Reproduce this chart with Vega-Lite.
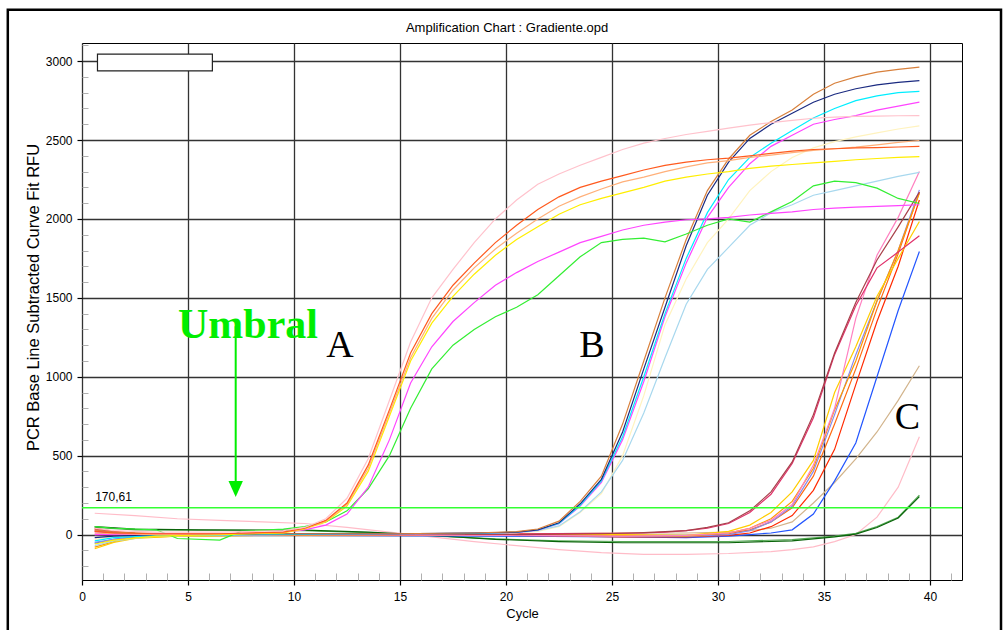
{
"$schema": "https://vega.github.io/schema/vega-lite/v6.json",
"width": 880, "height": 537,
"autosize": {"type": "none"},
"padding": {"left": 82, "top": 43, "right": 43, "bottom": 50},
"background": "white",
"config": {"view": {"stroke": "#000", "strokeWidth": 1}},
"resolve": {"axis": {"x": "independent", "y": "independent"}},
"datasets": {"curves": [
{"s":"pinkBase","c":0.6,"v":135},{"s":"pinkBase","c":2.5,"v":120},{"s":"pinkBase","c":4.5,"v":100},{"s":"pinkBase","c":6.5,"v":90},{"s":"pinkBase","c":8.5,"v":80},{"s":"pinkBase","c":10.5,"v":70},{"s":"pinkBase","c":12.5,"v":45},{"s":"pinkBase","c":14.5,"v":15},{"s":"pinkBase","c":16.5,"v":-15},{"s":"pinkBase","c":18.5,"v":-45},{"s":"pinkBase","c":20.5,"v":-70},{"s":"pinkBase","c":22.5,"v":-95},{"s":"pinkBase","c":24.5,"v":-115},{"s":"pinkBase","c":26.5,"v":-125},{"s":"pinkBase","c":28.5,"v":-125},{"s":"pinkBase","c":30.5,"v":-120},{"s":"pinkBase","c":32.5,"v":-108},{"s":"pinkBase","c":33.5,"v":-95},{"s":"pinkBase","c":34.5,"v":-78},{"s":"pinkBase","c":35.5,"v":-45},{"s":"pinkBase","c":36.5,"v":0},{"s":"pinkBase","c":37.5,"v":110},{"s":"pinkBase","c":38.5,"v":300},{"s":"pinkBase","c":39.5,"v":620},
{"s":"dg2","c":0.6,"v":45},{"s":"dg2","c":2.5,"v":30},{"s":"dg2","c":5.5,"v":28},{"s":"dg2","c":10.5,"v":25},{"s":"dg2","c":13.5,"v":12},{"s":"dg2","c":16.5,"v":-8},{"s":"dg2","c":19.5,"v":-28},{"s":"dg2","c":22.5,"v":-40},{"s":"dg2","c":25.5,"v":-44},{"s":"dg2","c":30.5,"v":-44},{"s":"dg2","c":33.5,"v":-32},{"s":"dg2","c":35.5,"v":-10},{"s":"dg2","c":36.5,"v":8},{"s":"dg2","c":37.5,"v":50},{"s":"dg2","c":38.5,"v":110},{"s":"dg2","c":39.5,"v":250},
{"s":"dg1","c":0.6,"v":50},{"s":"dg1","c":2.5,"v":35},{"s":"dg1","c":5.5,"v":30},{"s":"dg1","c":10.5,"v":28},{"s":"dg1","c":13.5,"v":15},{"s":"dg1","c":16.5,"v":-5},{"s":"dg1","c":19.5,"v":-30},{"s":"dg1","c":22.5,"v":-45},{"s":"dg1","c":25.5,"v":-52},{"s":"dg1","c":30.5,"v":-52},{"s":"dg1","c":33.5,"v":-40},{"s":"dg1","c":35.5,"v":-15},{"s":"dg1","c":36.5,"v":3},{"s":"dg1","c":37.5,"v":45},{"s":"dg1","c":38.5,"v":105},{"s":"dg1","c":39.5,"v":240},
{"s":"tanC","c":0.6,"v":0},{"s":"tanC","c":2.5,"v":5},{"s":"tanC","c":10.5,"v":5},{"s":"tanC","c":20.5,"v":5},{"s":"tanC","c":25.5,"v":10},{"s":"tanC","c":28.5,"v":10},{"s":"tanC","c":30.5,"v":15},{"s":"tanC","c":31.5,"v":25},{"s":"tanC","c":32.5,"v":40},{"s":"tanC","c":33.5,"v":80},{"s":"tanC","c":34.5,"v":200},{"s":"tanC","c":35.5,"v":330},{"s":"tanC","c":36.5,"v":480},{"s":"tanC","c":37.5,"v":650},{"s":"tanC","c":38.5,"v":850},{"s":"tanC","c":39.5,"v":1070},
{"s":"blueC","c":0.6,"v":-55},{"s":"blueC","c":1.5,"v":-30},{"s":"blueC","c":2.5,"v":-15},{"s":"blueC","c":4.5,"v":-5},{"s":"blueC","c":10.5,"v":-5},{"s":"blueC","c":20.5,"v":-10},{"s":"blueC","c":25.5,"v":-15},{"s":"blueC","c":28.5,"v":-20},{"s":"blueC","c":30.5,"v":-10},{"s":"blueC","c":31.5,"v":0},{"s":"blueC","c":32.5,"v":10},{"s":"blueC","c":33.5,"v":30},{"s":"blueC","c":34.5,"v":130},{"s":"blueC","c":35.5,"v":340},{"s":"blueC","c":36.5,"v":580},{"s":"blueC","c":37.5,"v":1000},{"s":"blueC","c":38.5,"v":1420},{"s":"blueC","c":39.5,"v":1794},
{"s":"redC","c":0.6,"v":40},{"s":"redC","c":1.5,"v":20},{"s":"redC","c":2.5,"v":10},{"s":"redC","c":4.5,"v":5},{"s":"redC","c":10.5,"v":0},{"s":"redC","c":20.5,"v":-5},{"s":"redC","c":25.5,"v":-15},{"s":"redC","c":28.5,"v":-15},{"s":"redC","c":30.5,"v":-5},{"s":"redC","c":31.5,"v":10},{"s":"redC","c":32.5,"v":50},{"s":"redC","c":33.5,"v":120},{"s":"redC","c":34.5,"v":280},{"s":"redC","c":35.5,"v":540},{"s":"redC","c":36.5,"v":950},{"s":"redC","c":37.5,"v":1350},{"s":"redC","c":38.5,"v":1700},{"s":"redC","c":39.5,"v":2120},
{"s":"orangeredC","c":0.6,"v":30},{"s":"orangeredC","c":1.5,"v":15},{"s":"orangeredC","c":2.5,"v":5},{"s":"orangeredC","c":4.5,"v":0},{"s":"orangeredC","c":10.5,"v":0},{"s":"orangeredC","c":20.5,"v":0},{"s":"orangeredC","c":25.5,"v":-10},{"s":"orangeredC","c":28.5,"v":-12},{"s":"orangeredC","c":30.5,"v":5},{"s":"orangeredC","c":31.5,"v":30},{"s":"orangeredC","c":32.5,"v":80},{"s":"orangeredC","c":33.5,"v":170},{"s":"orangeredC","c":34.5,"v":370},{"s":"orangeredC","c":35.5,"v":700},{"s":"orangeredC","c":36.5,"v":1050},{"s":"orangeredC","c":37.5,"v":1430},{"s":"orangeredC","c":38.5,"v":1780},{"s":"orangeredC","c":39.5,"v":2170},
{"s":"lavenderC","c":0.6,"v":-50},{"s":"lavenderC","c":1.5,"v":-30},{"s":"lavenderC","c":2.5,"v":-15},{"s":"lavenderC","c":4.5,"v":-5},{"s":"lavenderC","c":10.5,"v":-5},{"s":"lavenderC","c":20.5,"v":-5},{"s":"lavenderC","c":25.5,"v":-10},{"s":"lavenderC","c":28.5,"v":-12},{"s":"lavenderC","c":30.5,"v":0},{"s":"lavenderC","c":31.5,"v":25},{"s":"lavenderC","c":32.5,"v":80},{"s":"lavenderC","c":33.5,"v":180},{"s":"lavenderC","c":34.5,"v":400},{"s":"lavenderC","c":35.5,"v":760},{"s":"lavenderC","c":36.5,"v":1140},{"s":"lavenderC","c":37.5,"v":1480},{"s":"lavenderC","c":38.5,"v":1800},{"s":"lavenderC","c":39.5,"v":2184},
{"s":"orangeC","c":0.6,"v":-80},{"s":"orangeC","c":1.5,"v":-45},{"s":"orangeC","c":2.5,"v":-20},{"s":"orangeC","c":4.5,"v":-10},{"s":"orangeC","c":8.5,"v":-5},{"s":"orangeC","c":15.5,"v":-5},{"s":"orangeC","c":20.5,"v":0},{"s":"orangeC","c":25.5,"v":-5},{"s":"orangeC","c":28.5,"v":-10},{"s":"orangeC","c":30.5,"v":10},{"s":"orangeC","c":31.5,"v":40},{"s":"orangeC","c":32.5,"v":100},{"s":"orangeC","c":33.5,"v":210},{"s":"orangeC","c":34.5,"v":420},{"s":"orangeC","c":35.5,"v":790},{"s":"orangeC","c":36.5,"v":1100},{"s":"orangeC","c":37.5,"v":1480},{"s":"orangeC","c":38.5,"v":1800},{"s":"orangeC","c":39.5,"v":2163},
{"s":"goldC","c":0.6,"v":-90},{"s":"goldC","c":1.5,"v":-50},{"s":"goldC","c":2.5,"v":-25},{"s":"goldC","c":4.5,"v":-10},{"s":"goldC","c":8.5,"v":-5},{"s":"goldC","c":15.5,"v":0},{"s":"goldC","c":20.5,"v":5},{"s":"goldC","c":25.5,"v":0},{"s":"goldC","c":28.5,"v":-5},{"s":"goldC","c":30.5,"v":20},{"s":"goldC","c":31.5,"v":60},{"s":"goldC","c":32.5,"v":140},{"s":"goldC","c":33.5,"v":270},{"s":"goldC","c":34.5,"v":470},{"s":"goldC","c":35.5,"v":900},{"s":"goldC","c":36.5,"v":1190},{"s":"goldC","c":37.5,"v":1510},{"s":"goldC","c":38.5,"v":1750},{"s":"goldC","c":39.5,"v":1984},
{"s":"hotpinkC","c":0.6,"v":25},{"s":"hotpinkC","c":1.5,"v":10},{"s":"hotpinkC","c":3.5,"v":0},{"s":"hotpinkC","c":10.5,"v":0},{"s":"hotpinkC","c":20.5,"v":-5},{"s":"hotpinkC","c":25.5,"v":-10},{"s":"hotpinkC","c":28.5,"v":-5},{"s":"hotpinkC","c":30.5,"v":10},{"s":"hotpinkC","c":31.5,"v":40},{"s":"hotpinkC","c":32.5,"v":90},{"s":"hotpinkC","c":33.5,"v":190},{"s":"hotpinkC","c":34.5,"v":440},{"s":"hotpinkC","c":35.5,"v":800},{"s":"hotpinkC","c":36.5,"v":1370},{"s":"hotpinkC","c":37.5,"v":1770},{"s":"hotpinkC","c":38.5,"v":2010},{"s":"hotpinkC","c":39.5,"v":2300},
{"s":"crimsonC","c":0.6,"v":35},{"s":"crimsonC","c":1.5,"v":15},{"s":"crimsonC","c":2.5,"v":5},{"s":"crimsonC","c":5.5,"v":-5},{"s":"crimsonC","c":10.5,"v":0},{"s":"crimsonC","c":15.5,"v":0},{"s":"crimsonC","c":20.5,"v":5},{"s":"crimsonC","c":24.5,"v":8},{"s":"crimsonC","c":26.5,"v":10},{"s":"crimsonC","c":27.5,"v":15},{"s":"crimsonC","c":28.5,"v":25},{"s":"crimsonC","c":29.5,"v":40},{"s":"crimsonC","c":30.5,"v":70},{"s":"crimsonC","c":31.5,"v":140},{"s":"crimsonC","c":32.5,"v":255},{"s":"crimsonC","c":33.5,"v":450},{"s":"crimsonC","c":34.5,"v":740},{"s":"crimsonC","c":35.5,"v":1140},{"s":"crimsonC","c":36.5,"v":1450},{"s":"crimsonC","c":37.5,"v":1690},{"s":"crimsonC","c":38.5,"v":1790},{"s":"crimsonC","c":39.5,"v":1893},
{"s":"maroonC","c":0.6,"v":20},{"s":"maroonC","c":1.5,"v":10},{"s":"maroonC","c":2.5,"v":5},{"s":"maroonC","c":5.5,"v":0},{"s":"maroonC","c":10.5,"v":5},{"s":"maroonC","c":15.5,"v":5},{"s":"maroonC","c":20.5,"v":0},{"s":"maroonC","c":24.5,"v":5},{"s":"maroonC","c":26.5,"v":12},{"s":"maroonC","c":27.5,"v":18},{"s":"maroonC","c":28.5,"v":25},{"s":"maroonC","c":29.5,"v":45},{"s":"maroonC","c":30.5,"v":75},{"s":"maroonC","c":31.5,"v":150},{"s":"maroonC","c":32.5,"v":270},{"s":"maroonC","c":33.5,"v":460},{"s":"maroonC","c":34.5,"v":760},{"s":"maroonC","c":35.5,"v":1150},{"s":"maroonC","c":36.5,"v":1470},{"s":"maroonC","c":37.5,"v":1740},{"s":"maroonC","c":38.5,"v":1950},{"s":"maroonC","c":39.5,"v":2170},
{"s":"creamB","c":0.6,"v":-30},{"s":"creamB","c":1.5,"v":-15},{"s":"creamB","c":3.5,"v":0},{"s":"creamB","c":8.5,"v":0},{"s":"creamB","c":14.5,"v":5},{"s":"creamB","c":18.5,"v":8},{"s":"creamB","c":20.5,"v":12},{"s":"creamB","c":21.5,"v":20},{"s":"creamB","c":22.5,"v":50},{"s":"creamB","c":23.5,"v":140},{"s":"creamB","c":24.5,"v":260},{"s":"creamB","c":25.5,"v":500},{"s":"creamB","c":26.5,"v":880},{"s":"creamB","c":27.5,"v":1330},{"s":"creamB","c":28.5,"v":1620},{"s":"creamB","c":29.5,"v":1850},{"s":"creamB","c":30.5,"v":2000},{"s":"creamB","c":31.5,"v":2180},{"s":"creamB","c":32.5,"v":2300},{"s":"creamB","c":33.5,"v":2390},{"s":"creamB","c":34.5,"v":2450},{"s":"creamB","c":35.5,"v":2490},{"s":"creamB","c":36.5,"v":2520},{"s":"creamB","c":37.5,"v":2545},{"s":"creamB","c":38.5,"v":2570},{"s":"creamB","c":39.5,"v":2590},
{"s":"lightblueB","c":0.6,"v":-70},{"s":"lightblueB","c":1.5,"v":-40},{"s":"lightblueB","c":3.5,"v":-10},{"s":"lightblueB","c":8.5,"v":0},{"s":"lightblueB","c":14.5,"v":5},{"s":"lightblueB","c":18.5,"v":8},{"s":"lightblueB","c":20.5,"v":12},{"s":"lightblueB","c":21.5,"v":25},{"s":"lightblueB","c":22.5,"v":55},{"s":"lightblueB","c":23.5,"v":145},{"s":"lightblueB","c":24.5,"v":270},{"s":"lightblueB","c":25.5,"v":470},{"s":"lightblueB","c":26.5,"v":770},{"s":"lightblueB","c":27.5,"v":1120},{"s":"lightblueB","c":28.5,"v":1460},{"s":"lightblueB","c":29.5,"v":1680},{"s":"lightblueB","c":30.5,"v":1820},{"s":"lightblueB","c":31.5,"v":1960},{"s":"lightblueB","c":32.5,"v":2040},{"s":"lightblueB","c":33.5,"v":2090},{"s":"lightblueB","c":34.5,"v":2150},{"s":"lightblueB","c":35.5,"v":2180},{"s":"lightblueB","c":36.5,"v":2210},{"s":"lightblueB","c":37.5,"v":2240},{"s":"lightblueB","c":38.5,"v":2270},{"s":"lightblueB","c":39.5,"v":2295},
{"s":"magentaB","c":0.6,"v":10},{"s":"magentaB","c":1.5,"v":5},{"s":"magentaB","c":3.5,"v":0},{"s":"magentaB","c":8.5,"v":0},{"s":"magentaB","c":14.5,"v":5},{"s":"magentaB","c":18.5,"v":8},{"s":"magentaB","c":20.5,"v":14},{"s":"magentaB","c":21.5,"v":28},{"s":"magentaB","c":22.5,"v":68},{"s":"magentaB","c":23.5,"v":180},{"s":"magentaB","c":24.5,"v":330},{"s":"magentaB","c":25.5,"v":600},{"s":"magentaB","c":26.5,"v":970},{"s":"magentaB","c":27.5,"v":1380},{"s":"magentaB","c":28.5,"v":1720},{"s":"magentaB","c":29.5,"v":2010},{"s":"magentaB","c":30.5,"v":2200},{"s":"magentaB","c":31.5,"v":2350},{"s":"magentaB","c":32.5,"v":2460},{"s":"magentaB","c":33.5,"v":2530},{"s":"magentaB","c":34.5,"v":2600},{"s":"magentaB","c":35.5,"v":2630},{"s":"magentaB","c":36.5,"v":2655},{"s":"magentaB","c":37.5,"v":2690},{"s":"magentaB","c":38.5,"v":2715},{"s":"magentaB","c":39.5,"v":2740},
{"s":"cyanB","c":0.6,"v":-40},{"s":"cyanB","c":1.5,"v":-20},{"s":"cyanB","c":3.5,"v":-5},{"s":"cyanB","c":8.5,"v":0},{"s":"cyanB","c":14.5,"v":5},{"s":"cyanB","c":18.5,"v":8},{"s":"cyanB","c":20.5,"v":15},{"s":"cyanB","c":21.5,"v":30},{"s":"cyanB","c":22.5,"v":70},{"s":"cyanB","c":23.5,"v":185},{"s":"cyanB","c":24.5,"v":340},{"s":"cyanB","c":25.5,"v":620},{"s":"cyanB","c":26.5,"v":1000},{"s":"cyanB","c":27.5,"v":1400},{"s":"cyanB","c":28.5,"v":1750},{"s":"cyanB","c":29.5,"v":2040},{"s":"cyanB","c":30.5,"v":2250},{"s":"cyanB","c":31.5,"v":2390},{"s":"cyanB","c":32.5,"v":2480},{"s":"cyanB","c":33.5,"v":2560},{"s":"cyanB","c":34.5,"v":2640},{"s":"cyanB","c":35.5,"v":2700},{"s":"cyanB","c":36.5,"v":2750},{"s":"cyanB","c":37.5,"v":2780},{"s":"cyanB","c":38.5,"v":2800},{"s":"cyanB","c":39.5,"v":2808},
{"s":"navyB","c":0.6,"v":-20},{"s":"navyB","c":1.5,"v":-10},{"s":"navyB","c":3.5,"v":0},{"s":"navyB","c":8.5,"v":5},{"s":"navyB","c":14.5,"v":5},{"s":"navyB","c":18.5,"v":10},{"s":"navyB","c":20.5,"v":15},{"s":"navyB","c":21.5,"v":30},{"s":"navyB","c":22.5,"v":75},{"s":"navyB","c":23.5,"v":195},{"s":"navyB","c":24.5,"v":350},{"s":"navyB","c":25.5,"v":650},{"s":"navyB","c":26.5,"v":1050},{"s":"navyB","c":27.5,"v":1440},{"s":"navyB","c":28.5,"v":1830},{"s":"navyB","c":29.5,"v":2150},{"s":"navyB","c":30.5,"v":2360},{"s":"navyB","c":31.5,"v":2510},{"s":"navyB","c":32.5,"v":2600},{"s":"navyB","c":33.5,"v":2670},{"s":"navyB","c":34.5,"v":2740},{"s":"navyB","c":35.5,"v":2790},{"s":"navyB","c":36.5,"v":2825},{"s":"navyB","c":37.5,"v":2850},{"s":"navyB","c":38.5,"v":2865},{"s":"navyB","c":39.5,"v":2877},
{"s":"brownB","c":0.6,"v":30},{"s":"brownB","c":1.5,"v":15},{"s":"brownB","c":3.5,"v":5},{"s":"brownB","c":8.5,"v":5},{"s":"brownB","c":14.5,"v":5},{"s":"brownB","c":18.5,"v":10},{"s":"brownB","c":20.5,"v":18},{"s":"brownB","c":21.5,"v":35},{"s":"brownB","c":22.5,"v":85},{"s":"brownB","c":23.5,"v":210},{"s":"brownB","c":24.5,"v":370},{"s":"brownB","c":25.5,"v":700},{"s":"brownB","c":26.5,"v":1100},{"s":"brownB","c":27.5,"v":1500},{"s":"brownB","c":28.5,"v":1870},{"s":"brownB","c":29.5,"v":2180},{"s":"brownB","c":30.5,"v":2380},{"s":"brownB","c":31.5,"v":2530},{"s":"brownB","c":32.5,"v":2617},{"s":"brownB","c":33.5,"v":2690},{"s":"brownB","c":34.5,"v":2790},{"s":"brownB","c":35.5,"v":2860},{"s":"brownB","c":36.5,"v":2900},{"s":"brownB","c":37.5,"v":2930},{"s":"brownB","c":38.5,"v":2948},{"s":"brownB","c":39.5,"v":2962},
{"s":"greenA","c":0.6,"v":50},{"s":"greenA","c":1.5,"v":40},{"s":"greenA","c":3.5,"v":30},{"s":"greenA","c":4.5,"v":-25},{"s":"greenA","c":6.5,"v":-35},{"s":"greenA","c":7.5,"v":20},{"s":"greenA","c":9.5,"v":35},{"s":"greenA","c":10.5,"v":50},{"s":"greenA","c":11.5,"v":80},{"s":"greenA","c":12.5,"v":150},{"s":"greenA","c":13.5,"v":290},{"s":"greenA","c":14.5,"v":500},{"s":"greenA","c":15.5,"v":800},{"s":"greenA","c":16.5,"v":1050},{"s":"greenA","c":17.5,"v":1200},{"s":"greenA","c":18.5,"v":1300},{"s":"greenA","c":19.5,"v":1380},{"s":"greenA","c":20.5,"v":1440},{"s":"greenA","c":21.5,"v":1520},{"s":"greenA","c":22.5,"v":1640},{"s":"greenA","c":23.5,"v":1760},{"s":"greenA","c":24.5,"v":1850},{"s":"greenA","c":25.5,"v":1870},{"s":"greenA","c":26.5,"v":1878},{"s":"greenA","c":27.5,"v":1855},{"s":"greenA","c":28.5,"v":1905},{"s":"greenA","c":29.5,"v":1960},{"s":"greenA","c":30.5,"v":2000},{"s":"greenA","c":31.5,"v":1980},{"s":"greenA","c":32.5,"v":2045},{"s":"greenA","c":33.5,"v":2110},{"s":"greenA","c":34.5,"v":2210},{"s":"greenA","c":35.5,"v":2240},{"s":"greenA","c":36.5,"v":2230},{"s":"greenA","c":37.5,"v":2195},{"s":"greenA","c":38.5,"v":2130},{"s":"greenA","c":39.5,"v":2098},
{"s":"magentaA","c":0.6,"v":0},{"s":"magentaA","c":1.5,"v":0},{"s":"magentaA","c":3.5,"v":5},{"s":"magentaA","c":6.5,"v":5},{"s":"magentaA","c":9.5,"v":15},{"s":"magentaA","c":10.5,"v":30},{"s":"magentaA","c":11.5,"v":60},{"s":"magentaA","c":12.5,"v":130},{"s":"magentaA","c":13.5,"v":300},{"s":"magentaA","c":14.5,"v":600},{"s":"magentaA","c":15.5,"v":960},{"s":"magentaA","c":16.5,"v":1190},{"s":"magentaA","c":17.5,"v":1350},{"s":"magentaA","c":18.5,"v":1470},{"s":"magentaA","c":19.5,"v":1580},{"s":"magentaA","c":20.5,"v":1660},{"s":"magentaA","c":21.5,"v":1730},{"s":"magentaA","c":22.5,"v":1790},{"s":"magentaA","c":23.5,"v":1850},{"s":"magentaA","c":24.5,"v":1890},{"s":"magentaA","c":25.5,"v":1930},{"s":"magentaA","c":26.5,"v":1960},{"s":"magentaA","c":27.5,"v":1980},{"s":"magentaA","c":28.5,"v":1995},{"s":"magentaA","c":29.5,"v":2000},{"s":"magentaA","c":30.5,"v":2010},{"s":"magentaA","c":31.5,"v":2025},{"s":"magentaA","c":32.5,"v":2035},{"s":"magentaA","c":33.5,"v":2045},{"s":"magentaA","c":34.5,"v":2060},{"s":"magentaA","c":35.5,"v":2068},{"s":"magentaA","c":36.5,"v":2075},{"s":"magentaA","c":37.5,"v":2080},{"s":"magentaA","c":38.5,"v":2085},{"s":"magentaA","c":39.5,"v":2090},
{"s":"yellowA","c":0.6,"v":-60},{"s":"yellowA","c":1.5,"v":-35},{"s":"yellowA","c":3.5,"v":-10},{"s":"yellowA","c":6.5,"v":0},{"s":"yellowA","c":9.5,"v":10},{"s":"yellowA","c":10.5,"v":35},{"s":"yellowA","c":11.5,"v":80},{"s":"yellowA","c":12.5,"v":180},{"s":"yellowA","c":13.5,"v":400},{"s":"yellowA","c":14.5,"v":750},{"s":"yellowA","c":15.5,"v":1100},{"s":"yellowA","c":16.5,"v":1340},{"s":"yellowA","c":17.5,"v":1510},{"s":"yellowA","c":18.5,"v":1650},{"s":"yellowA","c":19.5,"v":1770},{"s":"yellowA","c":20.5,"v":1870},{"s":"yellowA","c":21.5,"v":1950},{"s":"yellowA","c":22.5,"v":2030},{"s":"yellowA","c":23.5,"v":2090},{"s":"yellowA","c":24.5,"v":2130},{"s":"yellowA","c":25.5,"v":2165},{"s":"yellowA","c":26.5,"v":2200},{"s":"yellowA","c":27.5,"v":2240},{"s":"yellowA","c":28.5,"v":2265},{"s":"yellowA","c":29.5,"v":2285},{"s":"yellowA","c":30.5,"v":2300},{"s":"yellowA","c":31.5,"v":2320},{"s":"yellowA","c":32.5,"v":2335},{"s":"yellowA","c":33.5,"v":2345},{"s":"yellowA","c":34.5,"v":2355},{"s":"yellowA","c":35.5,"v":2365},{"s":"yellowA","c":36.5,"v":2375},{"s":"yellowA","c":37.5,"v":2383},{"s":"yellowA","c":38.5,"v":2390},{"s":"yellowA","c":39.5,"v":2395},
{"s":"peachA","c":0.6,"v":10},{"s":"peachA","c":1.5,"v":5},{"s":"peachA","c":3.5,"v":0},{"s":"peachA","c":6.5,"v":5},{"s":"peachA","c":9.5,"v":15},{"s":"peachA","c":10.5,"v":40},{"s":"peachA","c":11.5,"v":85},{"s":"peachA","c":12.5,"v":190},{"s":"peachA","c":13.5,"v":420},{"s":"peachA","c":14.5,"v":770},{"s":"peachA","c":15.5,"v":1120},{"s":"peachA","c":16.5,"v":1370},{"s":"peachA","c":17.5,"v":1550},{"s":"peachA","c":18.5,"v":1690},{"s":"peachA","c":19.5,"v":1810},{"s":"peachA","c":20.5,"v":1910},{"s":"peachA","c":21.5,"v":2000},{"s":"peachA","c":22.5,"v":2080},{"s":"peachA","c":23.5,"v":2140},{"s":"peachA","c":24.5,"v":2190},{"s":"peachA","c":25.5,"v":2235},{"s":"peachA","c":26.5,"v":2265},{"s":"peachA","c":27.5,"v":2300},{"s":"peachA","c":28.5,"v":2330},{"s":"peachA","c":29.5,"v":2355},{"s":"peachA","c":30.5,"v":2370},{"s":"peachA","c":31.5,"v":2390},{"s":"peachA","c":32.5,"v":2405},{"s":"peachA","c":33.5,"v":2420},{"s":"peachA","c":34.5,"v":2435},{"s":"peachA","c":35.5,"v":2445},{"s":"peachA","c":36.5,"v":2455},{"s":"peachA","c":37.5,"v":2470},{"s":"peachA","c":38.5,"v":2485},{"s":"peachA","c":39.5,"v":2497},
{"s":"orangeA","c":0.6,"v":20},{"s":"orangeA","c":1.5,"v":10},{"s":"orangeA","c":3.5,"v":5},{"s":"orangeA","c":6.5,"v":5},{"s":"orangeA","c":9.5,"v":15},{"s":"orangeA","c":10.5,"v":40},{"s":"orangeA","c":11.5,"v":90},{"s":"orangeA","c":12.5,"v":200},{"s":"orangeA","c":13.5,"v":440},{"s":"orangeA","c":14.5,"v":790},{"s":"orangeA","c":15.5,"v":1150},{"s":"orangeA","c":16.5,"v":1400},{"s":"orangeA","c":17.5,"v":1580},{"s":"orangeA","c":18.5,"v":1720},{"s":"orangeA","c":19.5,"v":1850},{"s":"orangeA","c":20.5,"v":1960},{"s":"orangeA","c":21.5,"v":2060},{"s":"orangeA","c":22.5,"v":2140},{"s":"orangeA","c":23.5,"v":2200},{"s":"orangeA","c":24.5,"v":2240},{"s":"orangeA","c":25.5,"v":2275},{"s":"orangeA","c":26.5,"v":2310},{"s":"orangeA","c":27.5,"v":2340},{"s":"orangeA","c":28.5,"v":2360},{"s":"orangeA","c":29.5,"v":2375},{"s":"orangeA","c":30.5,"v":2385},{"s":"orangeA","c":31.5,"v":2400},{"s":"orangeA","c":32.5,"v":2415},{"s":"orangeA","c":33.5,"v":2430},{"s":"orangeA","c":34.5,"v":2440},{"s":"orangeA","c":35.5,"v":2445},{"s":"orangeA","c":36.5,"v":2450},{"s":"orangeA","c":37.5,"v":2452},{"s":"orangeA","c":38.5,"v":2456},{"s":"orangeA","c":39.5,"v":2460},
{"s":"pinkA","c":0.6,"v":40},{"s":"pinkA","c":1.5,"v":25},{"s":"pinkA","c":3.5,"v":15},{"s":"pinkA","c":6.5,"v":15},{"s":"pinkA","c":9.5,"v":25},{"s":"pinkA","c":10.5,"v":45},{"s":"pinkA","c":11.5,"v":100},{"s":"pinkA","c":12.5,"v":230},{"s":"pinkA","c":13.5,"v":480},{"s":"pinkA","c":14.5,"v":850},{"s":"pinkA","c":15.5,"v":1220},{"s":"pinkA","c":16.5,"v":1500},{"s":"pinkA","c":17.5,"v":1680},{"s":"pinkA","c":18.5,"v":1850},{"s":"pinkA","c":19.5,"v":2000},{"s":"pinkA","c":20.5,"v":2120},{"s":"pinkA","c":21.5,"v":2220},{"s":"pinkA","c":22.5,"v":2285},{"s":"pinkA","c":23.5,"v":2340},{"s":"pinkA","c":24.5,"v":2390},{"s":"pinkA","c":25.5,"v":2440},{"s":"pinkA","c":26.5,"v":2480},{"s":"pinkA","c":27.5,"v":2510},{"s":"pinkA","c":28.5,"v":2535},{"s":"pinkA","c":29.5,"v":2555},{"s":"pinkA","c":30.5,"v":2575},{"s":"pinkA","c":31.5,"v":2595},{"s":"pinkA","c":32.5,"v":2610},{"s":"pinkA","c":33.5,"v":2625},{"s":"pinkA","c":34.5,"v":2638},{"s":"pinkA","c":35.5,"v":2645},{"s":"pinkA","c":36.5,"v":2650},{"s":"pinkA","c":37.5,"v":2652},{"s":"pinkA","c":38.5,"v":2654},{"s":"pinkA","c":39.5,"v":2655}
]},
"layer": [
{"data": {"values": [{}]},
 "mark": {"type": "rect", "filled": false, "stroke": "#000", "strokeWidth": 2.5, "clip": false},
 "encoding": {
  "x": {"datum": -3.5, "type": "quantitative", "scale": {"domain": [0, 41.51], "nice": false, "zero": false}, "axis": null},
  "x2": {"datum": 43.35},
  "y": {"datum": 3325, "type": "quantitative", "scale": {"domain": [-288, 3115], "nice": false, "zero": false}, "axis": null},
  "y2": {"datum": -800}}},
{"data": {"values": [{}]},
 "mark": {"type": "text", "text": "Amplification Chart : Gradiente.opd", "font": "Liberation Sans", "fontSize": 13, "color": "#000", "align": "center", "baseline": "middle"},
 "encoding": {
  "x": {"datum": 20.05, "type": "quantitative", "scale": {"domain": [0, 41.51], "nice": false, "zero": false}, "axis": null},
  "y": {"datum": 3210, "type": "quantitative", "scale": {"domain": [-288, 3115], "nice": false, "zero": false}, "axis": null}}},
{"data": {"name": "curves"},
 "mark": {"type": "line", "strokeWidth": 1.2, "clip": true},
 "encoding": {
  "x": {"field": "c", "type": "quantitative", "scale": {"domain": [0, 41.51], "nice": false, "zero": false},
    "axis": {"orient": "bottom", "values": [0,5,10,15,20,25,30,35,40], "grid": true, "gridColor": "#333", "gridWidth": 1.3, "domain": false, "ticks": true, "tickSize": 5, "tickColor": "#000", "tickWidth": 1.2, "labelFont": "Liberation Sans", "labelFontSize": 12, "labelColor": "#000", "labelPadding": 11, "labelBaseline": "middle", "labelFlush": false, "labelOverlap": false, "title": "Cycle", "titleFont": "Liberation Sans", "titleFontSize": 13, "titleFontWeight": "normal", "titleColor": "#000", "titleY": 33, "titleBaseline": "middle"}},
  "y": {"field": "v", "type": "quantitative", "scale": {"domain": [-288, 3115], "nice": false, "zero": false},
    "axis": {"orient": "left", "values": [0,500,1000,1500,2000,2500,3000], "format": "d", "grid": true, "gridColor": "#333", "gridWidth": 1.3, "domain": false, "ticks": true, "tickSize": 5, "tickColor": "#000", "tickWidth": 1.2, "labelFont": "Liberation Sans", "labelFontSize": 12, "labelColor": "#000", "labelPadding": 5, "labelFlush": false, "labelOverlap": false, "title": "PCR Base Line Subtracted Curve Fit RFU", "titleFont": "Liberation Sans", "titleFontSize": 16.5, "titleFontWeight": "normal", "titleColor": "#000", "titleAngle": 270, "titleX": -49, "titleY": 254, "titleAlign": "center", "titleBaseline": "middle"}},
  "color": {"field": "s", "type": "nominal", "legend": null,
    "scale": {"domain": ["pinkBase","dg2","dg1","tanC","blueC","redC","orangeredC","lavenderC","orangeC","goldC","hotpinkC","crimsonC","maroonC","creamB","lightblueB","magentaB","cyanB","navyB","brownB","greenA","magentaA","yellowA","peachA","orangeA","pinkA"],
      "range": ["#ffbcc8","#55aa55","#0a640a","#d2b48c","#2255ff","#ff2a00","#ff6a10","#8888ee","#ff9900","#ffcc00","#ff80c0","#e0306a","#a8404a","#fff3bf","#a8d8ee","#ff44ff","#00eeff","#1a2a80","#d8803c","#33ee33","#ff44ff","#ffee00","#ffb07a","#ff5a1e","#ffc2cc"]}}}},
{"data": {"values": [{}]},
 "mark": {"type": "rect", "fill": "#fff", "stroke": "#222", "strokeWidth": 1.2},
 "encoding": {
  "x": {"datum": 0.73, "type": "quantitative", "scale": {"domain": [0, 41.51], "nice": false, "zero": false},
    "axis": {"orient": "bottom", "values": [1,2,3,4,6,7,8,9,11,12,13,14,16,17,18,19,21,22,23,24,26,27,28,29,31,32,33,34,36,37,38,39,41], "grid": false, "domain": false, "labels": false, "ticks": true, "tickSize": -7, "tickColor": "#b0b0b0", "tickWidth": 1, "title": null}},
  "x2": {"datum": 6.15},
  "y": {"datum": 3045, "type": "quantitative", "scale": {"domain": [-288, 3115], "nice": false, "zero": false},
    "axis": {"orient": "left", "values": [-200,-100,100,200,300,400,600,700,800,900,1100,1200,1300,1400,1600,1700,1800,1900,2100,2200,2300,2400,2600,2700,2800,2900,3100], "grid": false, "domain": false, "labels": false, "ticks": true, "tickSize": -6, "tickColor": "#b0b0b0", "tickWidth": 1, "title": null}},
  "y2": {"datum": 2938}}},
{"data": {"values": [{}]},
 "mark": {"type": "rule", "color": "#33ff33", "strokeWidth": 1.5},
 "encoding": {"y": {"datum": 170.61, "type": "quantitative", "scale": {"domain": [-288, 3115], "nice": false, "zero": false}, "axis": null}}},
{"data": {"values": [{}]},
 "mark": {"type": "text", "text": "170,61", "font": "Liberation Sans", "fontSize": 12, "color": "#000", "align": "left", "baseline": "alphabetic"},
 "encoding": {
  "x": {"datum": 0.62, "type": "quantitative", "scale": {"domain": [0, 41.51], "nice": false, "zero": false}, "axis": null},
  "y": {"datum": 213, "type": "quantitative", "scale": {"domain": [-288, 3115], "nice": false, "zero": false}, "axis": null}}},
{"data": {"values": [{}]},
 "mark": {"type": "rule", "color": "#00ee00", "strokeWidth": 2},
 "encoding": {
  "x": {"datum": 7.25, "type": "quantitative", "scale": {"domain": [0, 41.51], "nice": false, "zero": false}, "axis": null},
  "y": {"datum": 1320, "type": "quantitative", "scale": {"domain": [-288, 3115], "nice": false, "zero": false}, "axis": null},
  "y2": {"datum": 320}}},
{"data": {"values": [{}]},
 "mark": {"type": "point", "shape": "M-0.9,-1L0.9,-1L0,1Z", "size": 256, "filled": true, "color": "#00ee00", "opacity": 1},
 "encoding": {
  "x": {"datum": 7.25, "type": "quantitative", "scale": {"domain": [0, 41.51], "nice": false, "zero": false}, "axis": null},
  "y": {"datum": 289, "type": "quantitative", "scale": {"domain": [-288, 3115], "nice": false, "zero": false}, "axis": null}}},
{"data": {"values": [{}]},
 "mark": {"type": "text", "text": "Umbral", "font": "Liberation Serif", "fontWeight": "bold", "fontSize": 42, "color": "#00ee00", "align": "center", "baseline": "alphabetic"},
 "encoding": {
  "x": {"datum": 7.83, "type": "quantitative", "scale": {"domain": [0, 41.51], "nice": false, "zero": false}, "axis": null},
  "y": {"datum": 1246, "type": "quantitative", "scale": {"domain": [-288, 3115], "nice": false, "zero": false}, "axis": null}}},
{"data": {"values": [{}]},
 "mark": {"type": "text", "text": "A", "font": "Liberation Serif", "fontSize": 38, "color": "#000", "align": "center", "baseline": "alphabetic"},
 "encoding": {
  "x": {"datum": 12.17, "type": "quantitative", "scale": {"domain": [0, 41.51], "nice": false, "zero": false}, "axis": null},
  "y": {"datum": 1125, "type": "quantitative", "scale": {"domain": [-288, 3115], "nice": false, "zero": false}, "axis": null}}},
{"data": {"values": [{}]},
 "mark": {"type": "text", "text": "B", "font": "Liberation Serif", "fontSize": 38, "color": "#000", "align": "center", "baseline": "alphabetic"},
 "encoding": {
  "x": {"datum": 24.05, "type": "quantitative", "scale": {"domain": [0, 41.51], "nice": false, "zero": false}, "axis": null},
  "y": {"datum": 1125, "type": "quantitative", "scale": {"domain": [-288, 3115], "nice": false, "zero": false}, "axis": null}}},
{"data": {"values": [{}]},
 "mark": {"type": "text", "text": "C", "font": "Liberation Serif", "fontSize": 38, "color": "#000", "align": "center", "baseline": "alphabetic"},
 "encoding": {
  "x": {"datum": 38.94, "type": "quantitative", "scale": {"domain": [0, 41.51], "nice": false, "zero": false}, "axis": null},
  "y": {"datum": 670, "type": "quantitative", "scale": {"domain": [-288, 3115], "nice": false, "zero": false}, "axis": null}}}
]
}
